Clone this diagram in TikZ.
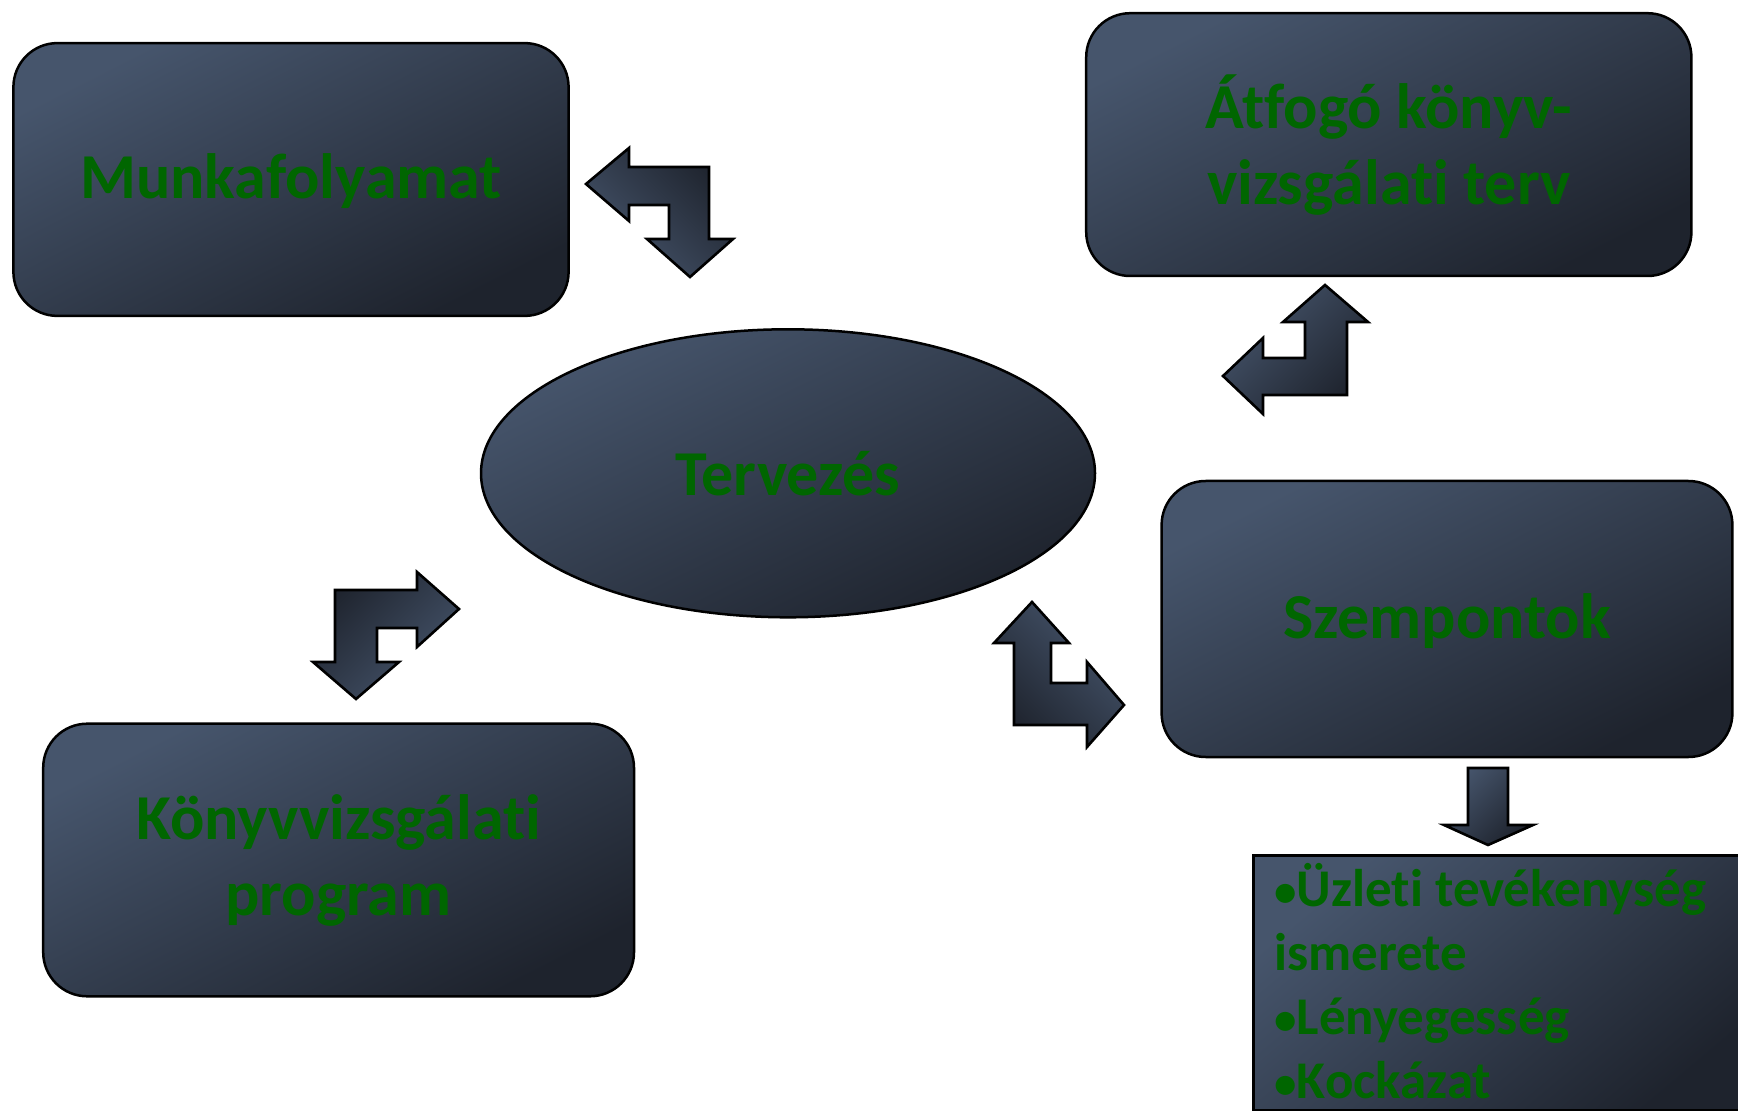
\documentclass[tikz,border=0pt]{standalone}
\usepackage{fontspec}
\setmainfont{Carlito}[Ligatures=NoCommon]
\usetikzlibrary{shapes.geometric}
\definecolor{cA}{RGB}{70,85,108}
\definecolor{cB}{RGB}{30,35,45}
\definecolor{tgreen}{RGB}{0,102,0}
\begin{document}
\begin{tikzpicture}[x=0.5pt,y=-0.5pt,
  shadefill/.style={draw=black, line width=1.25pt, top color=cA, bottom color=cB},
  box/.style={shadefill, shading angle=27, rectangle, rounded corners=22pt, inner sep=0pt,
    align=center, text=tgreen, font=\fontsize{32}{38}\selectfont\bfseries},
  ell/.style={shadefill, shading angle=26, ellipse, inner sep=0pt,
    align=center, text=tgreen, font=\fontsize{32}{38}\selectfont\bfseries},
  lbox/.style={shadefill, shading angle=40, rectangle, inner sep=0pt},
  ltext/.style={inner sep=0pt, align=left, text=tgreen, font=\fontsize{26.5}{32}\selectfont\bfseries},
  blk/.style={shadefill, line width=1.3pt, line join=miter}]
\useasboundingbox (0,0) rectangle (1738,1111);

% main shapes
\node[box, minimum width=277.6pt, minimum height=136.4pt, text depth=3pt] (mf) at (291,179.5) {Munkafolyamat};
\node[box, minimum width=302.6pt, minimum height=131.4pt] (at) at (1388.8,144.6) {Átfogó könyv-\\vizsgálati terv};
\node[ell, minimum width=307pt, minimum height=144pt] (tv) at (788,473.3) {Tervezés};
\node[box, minimum width=285.4pt, minimum height=138pt, text depth=3pt] (sz) at (1447,619) {Szempontok};
\node[box, minimum width=295.4pt, minimum height=136.3pt] (kp) at (338.6,860) {Könyvvizsgálati\\program};
\node[lbox, minimum width=254pt, minimum height=127.5pt, anchor=north west] (lst) at (1252,854) {};
\node[ltext, anchor=north west] (lt) at (1274,863) {\scalebox{0.85}{•}Üzleti tevékenység\\ismerete\\\scalebox{0.85}{•}Lényegesség\\\scalebox{0.85}{•}Kockázat};

% bent double arrows
\path[blk, shading angle=135] (586,184) -- (629,148) -- (629,167) -- (709,167) -- (709,239) -- (733,239)
  -- (690,277) -- (647,239) -- (669,239) -- (669,205) -- (629,205) -- (629,221) -- cycle;
\path[blk, shading angle=45] (1325,285) -- (1368,322) -- (1347,322) -- (1347,395) -- (1263,395) -- (1263,414)
  -- (1223,376) -- (1263,338) -- (1263,358) -- (1305,358) -- (1305,322) -- (1283,322) -- cycle;
\path[blk, shading angle=225] (335,590) -- (417,590) -- (417,572) -- (459,609) -- (417,647) -- (417,628)
  -- (377,628) -- (377,662) -- (399,662) -- (356,699) -- (313,662) -- (335,662) -- cycle;
\path[blk, shading angle=-45] (1032,602) -- (1069,643) -- (1051,643) -- (1051,683) -- (1087,683) -- (1087,662)
  -- (1124,705) -- (1087,747) -- (1087,725) -- (1014,725) -- (1014,643) -- (994,643) -- cycle;
% down arrow
\path[blk, shading angle=45] (1468,768) -- (1508,768) -- (1508,825) -- (1533,825) -- (1488,845)
  -- (1444,825) -- (1468,825) -- cycle;
\end{tikzpicture}
\end{document}
